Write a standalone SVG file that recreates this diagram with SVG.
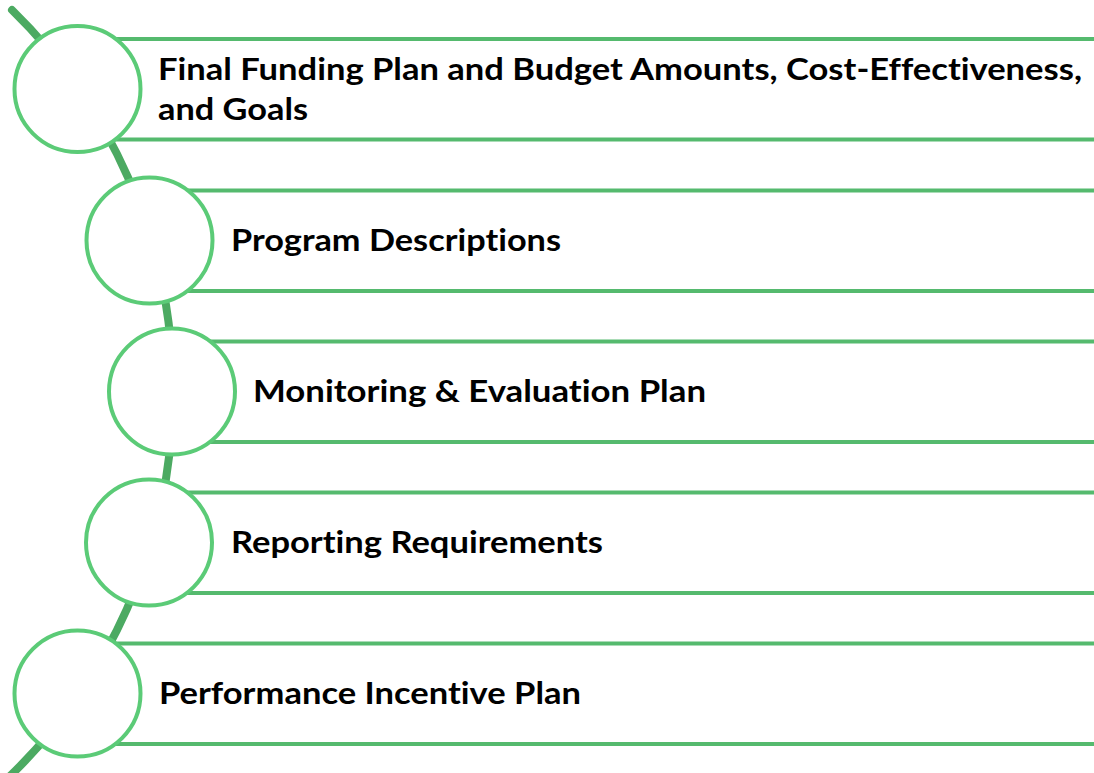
<svg xmlns="http://www.w3.org/2000/svg" width="1094" height="773" viewBox="0 0 1094 773">
<style>
.bar{stroke:#55ba6e;stroke-width:4;fill:none}
.ring{fill:#ffffff;stroke:#5bcb77;stroke-width:4}
.lbl{font-family:Lato,"Liberation Sans",Arial,sans-serif;font-weight:bold;font-size:30px;fill:#000000;font-variant-ligatures:none;font-feature-settings:"liga" 0,"dlig" 0}
.spine{fill:none;stroke:#4caa62;stroke-width:8;stroke-linecap:round}
</style>
<rect width="1094" height="773" fill="#ffffff"/>
<g id="connectors">
<path class="spine" d="M 12 10 A 533.7 533.7 0 0 1 10 776"/>
</g>
<g id="node1">
<line class="bar" x1="78" y1="39" x2="1094" y2="39"/>
<line class="bar" x1="78" y1="139.5" x2="1094" y2="139.5"/>
<circle class="ring" cx="77.5" cy="89" r="63"/>
<text class="lbl" x="158" y="80" textLength="924" lengthAdjust="spacingAndGlyphs">Final Funding Plan and Budget Amounts, Cost-Effectiveness,</text>
<text class="lbl" x="158" y="120" textLength="150" lengthAdjust="spacingAndGlyphs">and Goals</text>
</g>
<g id="node2">
<line class="bar" x1="150" y1="190.5" x2="1094" y2="190.5"/>
<line class="bar" x1="150" y1="291" x2="1094" y2="291"/>
<circle class="ring" cx="149.5" cy="240.5" r="63"/>
<text class="lbl" x="231" y="251" textLength="330" lengthAdjust="spacingAndGlyphs">Program Descriptions</text>
</g>
<g id="node3">
<line class="bar" x1="172" y1="341.5" x2="1094" y2="341.5"/>
<line class="bar" x1="172" y1="442" x2="1094" y2="442"/>
<circle class="ring" cx="172" cy="391.5" r="63"/>
<text class="lbl" x="253" y="402" textLength="453" lengthAdjust="spacingAndGlyphs">Monitoring &amp; Evaluation Plan</text>
</g>
<g id="node4">
<line class="bar" x1="149" y1="492.5" x2="1094" y2="492.5"/>
<line class="bar" x1="149" y1="593" x2="1094" y2="593"/>
<circle class="ring" cx="149" cy="542.5" r="63"/>
<text class="lbl" x="231" y="553" textLength="372" lengthAdjust="spacingAndGlyphs">Reporting Requirements</text>
</g>
<g id="node5">
<line class="bar" x1="78" y1="643.5" x2="1094" y2="643.5"/>
<line class="bar" x1="78" y1="744" x2="1094" y2="744"/>
<circle class="ring" cx="77.5" cy="693.5" r="63"/>
<text class="lbl" x="159" y="704" textLength="422" lengthAdjust="spacingAndGlyphs">Performance Incentive Plan</text>
</g>
</svg>
